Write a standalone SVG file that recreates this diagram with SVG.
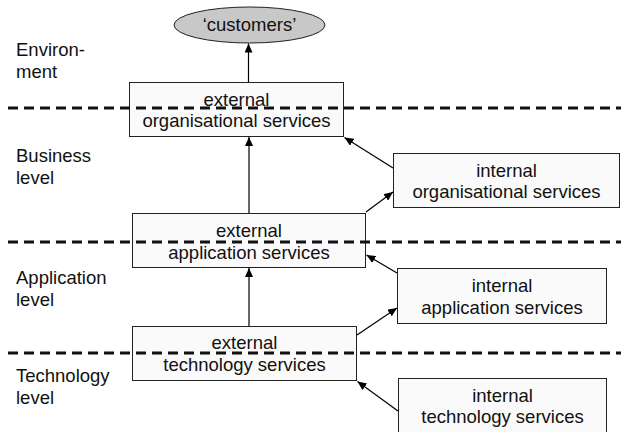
<svg xmlns="http://www.w3.org/2000/svg" width="621" height="432" viewBox="0 0 621 432">
<style>
text{font-family:"Liberation Sans",Arial,sans-serif;font-size:18.5px;fill:#111}
.c{text-anchor:middle}
.box{fill:#fafafa;stroke:#222;stroke-width:1}
.ell{fill:#c8c8c8;stroke:#222;stroke-width:1}
.dash{stroke:#111;stroke-width:3;stroke-dasharray:10 6;fill:none}
.conn{stroke:#000;stroke-width:1.2;fill:none;marker-end:url(#ah)}
</style>
<defs>
<marker id="ah" markerUnits="userSpaceOnUse" markerWidth="10" markerHeight="8" refX="9" refY="4" orient="auto">
<path d="M0,0 L9,4 L0,8 Z" fill="#000"/>
</marker>
</defs>
<rect width="621" height="432" fill="#fff"/>
<g id="labels">
<text x="16" y="56">Environ-</text>
<text x="16" y="78">ment</text>
<text x="16" y="162">Business</text>
<text x="16" y="184">level</text>
<text x="16" y="284">Application</text>
<text x="16" y="306">level</text>
<text x="16" y="382">Technology</text>
<text x="16" y="404">level</text>
</g>
<g id="customers">
<ellipse class="ell" cx="249.5" cy="25" rx="75.5" ry="18"/>
<text class="c" x="249.5" y="31">‘customers’</text>
</g>
<g id="ext-org">
<rect class="box" x="129.5" y="82.5" width="214" height="54"/>
<text class="c" x="236.5" y="105.5">external</text>
<text class="c" x="236.5" y="127">organisational services</text>
</g>
<g id="int-org">
<rect class="box" x="393.5" y="153.5" width="226" height="54"/>
<text class="c" x="506.5" y="176.5">internal</text>
<text class="c" x="506.5" y="198">organisational services</text>
</g>
<g id="ext-app">
<rect class="box" x="132.5" y="213.5" width="233" height="54"/>
<text class="c" x="249" y="237">external</text>
<text class="c" x="249" y="258.5">application services</text>
</g>
<g id="int-app">
<rect class="box" x="397.5" y="268.5" width="209" height="55"/>
<text class="c" x="502" y="292">internal</text>
<text class="c" x="502" y="313.5">application services</text>
</g>
<g id="ext-tech">
<rect class="box" x="132.5" y="326.5" width="224" height="54"/>
<text class="c" x="244.5" y="349">external</text>
<text class="c" x="244.5" y="370.5">technology services</text>
</g>
<g id="int-tech">
<rect class="box" x="398.5" y="378.5" width="208" height="56"/>
<text class="c" x="502.5" y="401.5">internal</text>
<text class="c" x="502.5" y="423">technology services</text>
</g>
<g id="layers">
<line class="dash" x1="8" y1="108" x2="621" y2="108"/>
<line class="dash" x1="8" y1="242" x2="621" y2="242"/>
<line class="dash" x1="8" y1="353" x2="621" y2="353"/>
</g>
<g id="connectors">
<line class="conn" x1="248.5" y1="82" x2="248.5" y2="43.5"/>
<line class="conn" x1="249" y1="213" x2="249" y2="137"/>
<line class="conn" x1="249" y1="326" x2="249" y2="268"/>
<line class="conn" x1="393" y1="168" x2="344.5" y2="137.5"/>
<line class="conn" x1="366" y1="212" x2="393" y2="192"/>
<line class="conn" x1="397" y1="273" x2="366.5" y2="255"/>
<line class="conn" x1="357" y1="335" x2="397" y2="308"/>
<line class="conn" x1="398" y1="411" x2="357.5" y2="381.5"/>
</g>
</svg>
